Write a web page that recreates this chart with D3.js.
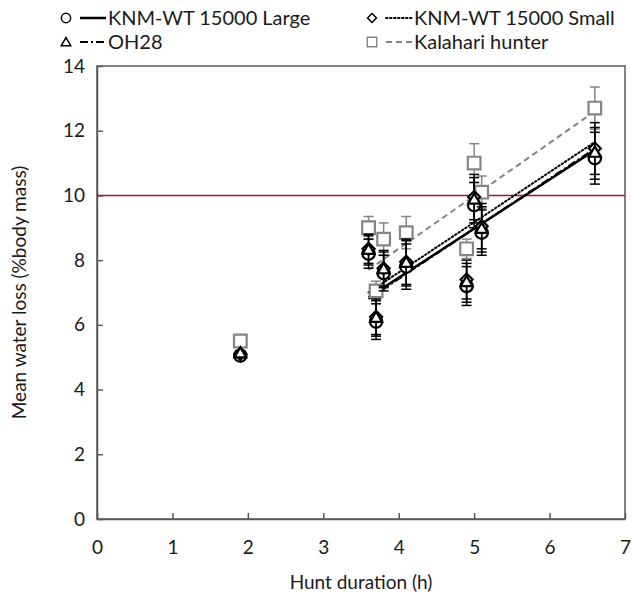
<!DOCTYPE html>
<html>
<head>
<script src="https://cdn.jsdelivr.net/npm/d3@7/dist/d3.min.js"></script>
<style>
    body{
        margin:0;
        background:white;
        font-family:Lato, "Open Sans", sans-serif;
    }
</style>
</head>
<body>
<div id="chart"></div>
<script>

    // hunt durations (h) and mean water loss (% body mass)
    var hours = [1.9, 3.6, 3.7, 3.8, 4.1, 4.9, 5.0, 5.1, 6.6]
    var largeLoss = [5.05, 8.2, 6.1, 7.6, 7.8, 7.2, 9.7, 8.85, 11.15]
    var smallLoss = [5.1, 8.35, 6.25, 7.75, 7.95, 7.4, 9.95, 9.05, 11.45]
    var oh28Loss = [5.1, 8.3, 6.2, 7.7, 7.9, 7.3, 9.85, 8.95, 11.3]
    var kalahariLoss = [5.5, 9.0, 7.05, 8.65, 8.85, 8.35, 11.0, 10.1, 12.7]
    var hominidErr = [0.1, 0.45, 0.55, 0.55, 0.7, 0.6, 0.7, 0.7, 0.8]
    var kalahariErr = [0.05, 0.35, 0.3, 0.5, 0.5, 0.3, 0.6, 0.5, 0.65]

    // trend lines
    var trendHours = [3.6, 6.6]
    var largeTrend = [6.85, 11.4]
    var smallTrend = [7.0, 11.65]
    var oh28Trend = [6.8, 11.45]
    var kalahariTrend = [7.7, 12.6]

    var seriesNames = ["KNM-WT 15000 Large", "KNM-WT 15000 Small", "OH28", "Kalahari hunter"]
    var xTicks = [0, 1, 2, 3, 4, 5, 6, 7]
    var yTicks = [0, 2, 4, 6, 8, 10, 12, 14]
    var limitLoss = 10

    var width = 632, height = 594
    var plotLeft = 97, plotRight = 625, plotTop = 66, plotBottom = 519
    var grey = "#858585"
    var red = "#9e1b2e"
    var axisColor = "#595959"
    var textColor = "#1a1a1a"

    var xScale = d3.scaleLinear().domain([0, 7]).range([plotLeft, plotRight])
    var yScale = d3.scaleLinear().domain([0, 14]).range([plotBottom, plotTop])

    var svg = d3.select("#chart").append("svg")
        .attr("width", width).attr("height", height)

    // plot frame
    svg.append("rect")
        .attr("x", plotLeft).attr("y", plotTop)
        .attr("width", plotRight - plotLeft).attr("height", plotBottom - plotTop)
        .attr("fill", "none").attr("stroke", axisColor).attr("stroke-width", 1.5)

    var xAxis = d3.axisBottom(xScale).tickValues(xTicks).tickFormat(d3.format("d"))
        .tickSizeInner(-6).tickSizeOuter(0).tickPadding(22)
    var gx = svg.append("g").attr("transform", "translate(0," + plotBottom + ")").call(xAxis)
    var yAxis = d3.axisLeft(yScale).tickValues(yTicks).tickFormat(d3.format("d"))
        .tickSizeInner(-6).tickSizeOuter(0).tickPadding(12)
    var gy = svg.append("g").attr("transform", "translate(" + plotLeft + ",0)").call(yAxis)

    for (var g of [gx, gy]) {
        g.select(".domain").attr("stroke", axisColor).attr("stroke-width", 1.5)
        g.selectAll(".tick line").attr("stroke", axisColor).attr("stroke-width", 1.5)
        g.selectAll(".tick text").attr("font-size", 19).attr("fill", textColor).attr("font-family", "Lato, 'Open Sans', sans-serif")
    }

    svg.append("text").text("Hunt duration (h)")
        .attr("x", (plotLeft + plotRight) / 2).attr("y", 589)
        .attr("text-anchor", "middle").attr("font-size", 19).attr("fill", textColor)

    svg.append("text").text("Mean water loss (%body mass)")
        .attr("transform", "translate(26," + ((plotTop + plotBottom) / 2) + ") rotate(-90)")
        .attr("text-anchor", "middle").attr("font-size", 19).attr("fill", textColor)

    // 10% line
    svg.append("line")
        .attr("x1", plotLeft).attr("x2", plotRight)
        .attr("y1", yScale(limitLoss)).attr("y2", yScale(limitLoss))
        .attr("stroke", red).attr("stroke-width", 1.5)

    var series = [
        {name: seriesNames[0], loss: largeLoss, err: hominidErr, trend: largeTrend, color: "black", dash: null, width: 2.5, shape: "circle"},
        {name: seriesNames[1], loss: smallLoss, err: hominidErr, trend: smallTrend, color: "black", dash: "1.5,2.5", width: 2, shape: "diamond"},
        {name: seriesNames[2], loss: oh28Loss, err: hominidErr, trend: oh28Trend, color: "black", dash: "8,3,2,3", width: 2, shape: "triangle"},
        {name: seriesNames[3], loss: kalahariLoss, err: kalahariErr, trend: kalahariTrend, color: grey, dash: "6,4", width: 2, shape: "square"}
    ]

    function markerPath(shape) {
        if (shape == "circle") return d3.symbol().type(d3.symbolCircle).size(120)()
        if (shape == "square") return d3.symbol().type(d3.symbolSquare).size(160)()
        if (shape == "triangle") return d3.symbol().type(d3.symbolTriangle).size(60)()
        return d3.symbol().type(d3.symbolSquare).size(72)()
    }

    function drawMarker(g, shape, color, sw) {
        var p = g.append("path").attr("d", markerPath(shape))
            .attr("fill", "white").attr("stroke", color).attr("stroke-width", sw)
        if (shape == "diamond") p.attr("transform", "rotate(45)")
        return p
    }

    // trend lines
    var line = d3.line().x(function(d) { return xScale(d[0]) }).y(function(d) { return yScale(d[1]) })
    for (var s of series) {
        svg.append("path")
            .attr("d", line([[trendHours[0], s.trend[0]], [trendHours[1], s.trend[1]]]))
            .attr("fill", "none").attr("stroke", s.color)
            .attr("stroke-width", s.width)
            .attr("stroke-dasharray", s.dash)
            .attr("stroke-linecap", s.dash == "1.5,2.5" ? "round" : "butt")
    }

    // draw Kalahari first so hominid markers sit on top
    var drawOrder = [3, 0, 1, 2]
    for (var k of drawOrder) {
        var s = series[k]
        var pts = svg.append("g")
        hours.forEach(function(h, i) {
            var cx = xScale(h), v = s.loss[i], e = s.err[i]
            pts.append("line")
                .attr("x1", cx).attr("x2", cx)
                .attr("y1", yScale(v - e)).attr("y2", yScale(v + e))
                .attr("stroke", s.color).attr("stroke-width", 1.5)
            for (var cap of [v - e, v + e]) {
                pts.append("line")
                    .attr("x1", cx - 5).attr("x2", cx + 5)
                    .attr("y1", yScale(cap)).attr("y2", yScale(cap))
                    .attr("stroke", s.color).attr("stroke-width", 1.5)
            }
        })
        hours.forEach(function(h, i) {
            var m = pts.append("g").attr("transform", "translate(" + xScale(h) + "," + yScale(s.loss[i]) + ")")
            drawMarker(m, s.shape, s.color, 2.2)
        })
    }

    // legend
    var legendPos = [[66, 18], [372, 18], [66, 42], [372, 42]]
    series.forEach(function(s, i) {
        var lg = svg.append("g").attr("transform", "translate(" + legendPos[i][0] + "," + legendPos[i][1] + ")")
        var m = lg.append("g").attr("transform", s.shape == "triangle" ? "translate(0,1) scale(0.8)" : "scale(0.75)")
        drawMarker(m, s.shape, s.color, 2)
        lg.append("line").attr("x1", 14).attr("x2", 40).attr("y1", 0).attr("y2", 0)
            .attr("stroke", s.color).attr("stroke-width", s.width)
            .attr("stroke-dasharray", s.dash)
            .attr("stroke-linecap", s.dash == "1.5,2.5" ? "round" : "butt")
        lg.append("text").text(s.name).attr("x", 42).attr("y", 7)
            .attr("font-size", 20).attr("fill", textColor)
    })

</script>
</body>
</html>
